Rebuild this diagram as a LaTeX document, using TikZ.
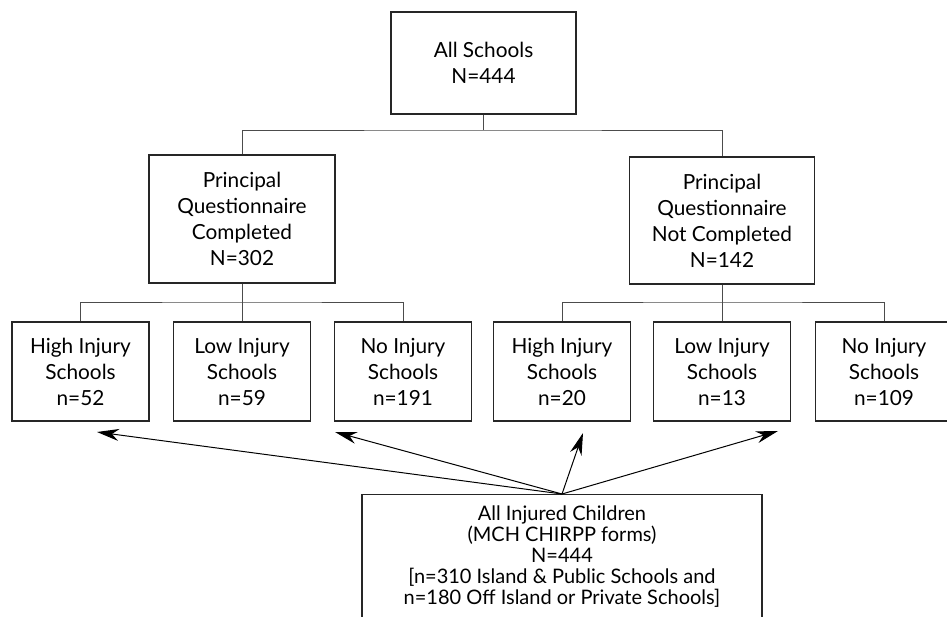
\documentclass[tikz,border=0pt]{standalone}
\usepackage{fontspec}
\setmainfont{Lato}
\usetikzlibrary{arrows.meta}

\tikzset{
  schoolbox/.style={draw=black!85, line width=0.7pt, align=center, inner sep=0pt,
    font=\fontsize{10.4}{13}\selectfont},
  leafbox/.style={schoolbox, minimum width=68.5pt, minimum height=49.5pt},
  tree/.style={draw=black!70, line width=0.5pt},
  ptr/.style={line width=0.5pt, -{Stealth[length=11pt,width=6pt,inset=3.5pt]}}
}

\begin{document}
\begin{tikzpicture}[x=0.5pt,y=-0.5pt]
      \useasboundingbox (0,0) rectangle (947,616);
      \node[schoolbox, minimum width=92.5pt, minimum height=51pt] (all) at (483.5,63) {All Schools\\N=444};
      \node[schoolbox, minimum width=93pt, minimum height=64pt] (pqc) at (242,219) {Principal\\Questionnaire\\Completed\\N=302};
      \node[schoolbox, minimum width=92.5pt, minimum height=63.5pt] (pqn) at (722,220.5) {Principal\\Questionnaire\\Not Completed\\N=142};
      % injury groups
      \node[leafbox] (hic) at (80.5,371.5) {High Injury\\Schools\\n=52};
      \node[leafbox] (lic) at (242,371.5) {Low Injury\\Schools\\n=59};
      \node[leafbox] (nic) at (403,371.5) {No Injury\\Schools\\n=191};
      \node[leafbox] (hin) at (562,371.5) {High Injury\\Schools\\n=20};
      \node[leafbox] (lin) at (722,371.5) {Low Injury\\Schools\\n=13};
      \node[leafbox] (nin) at (884,371.5) {No Injury\\Schools\\n=109};
      \node[schoolbox, font=\fontsize{10}{10.5}\selectfont, minimum width=200pt, inner ysep=5.5pt, text depth=30pt, anchor=north] (kids) at (562,494)
        {All Injured Children\\(MCH CHIRPP forms)\\N=444\\{}[n=310 Island \& Public Schools and\\n=180 Off Island or Private Schools]};
      % tree lines
      \coordinate (j0) at (483.5,130);
      \coordinate (j1) at (242,302);
      \coordinate (j2) at (722,302);
      \draw[tree] (all.south) -- (j0);
      \draw[tree] (pqc.north) |- (j0) -| (pqn.north);
      \draw[tree] (pqc.south) -- (j1);
      \draw[tree] (hic.north) |- (j1) -| (nic.north);
      \draw[tree] (lic.north) -- (j1);
      \draw[tree] (pqn.south) -- (j2);
      \draw[tree] (hin.north) |- (j2) -| (nin.north);
      \draw[tree] (lin.north) -- (j2);
      % arrows from the children box
      \coordinate (t1) at (97,432);
      \coordinate (t2) at (335,432);
      \coordinate (t3) at (583,433);
      \coordinate (t4) at (778,431);
      \foreach \t in {t1,t2,t3,t4}
        \draw[ptr] (kids.north) -- (\t);
\end{tikzpicture}
\end{document}
